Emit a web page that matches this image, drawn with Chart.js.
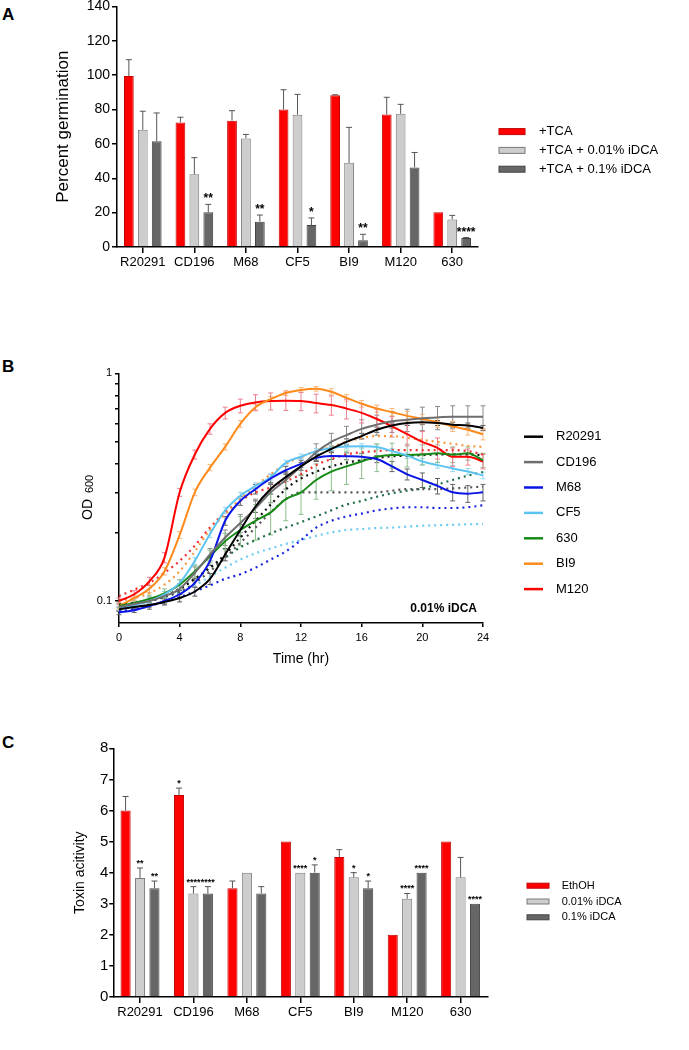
<!DOCTYPE html>
<html>
<head>
<meta charset="utf-8">
<script src="https://cdn.jsdelivr.net/npm/chart.js@4.4.1/dist/chart.umd.min.js"></script>
<style>
    html, body { margin: 0; padding: 0; background: #fff; }
    body { width: 689px; height: 1050px; position: relative; overflow: hidden; font-family: "Liberation Sans", Arial, sans-serif; }
    .panel { position: absolute; left: 0; }
    .tag { position: absolute; left: 2px; font: bold 17px "Liberation Sans", Arial, sans-serif; line-height: 17px; }
</style>
</head>
<body>
<div class="tag" style="top:6px">A</div>
<div class="tag" style="top:358px">B</div>
<div class="tag" style="top:734px">C</div>

<canvas id="chartA" class="panel" width="689" height="290" style="top:-4px"></canvas>
<canvas id="chartB" class="panel" width="689" height="313" style="top:355px"></canvas>
<canvas id="chartC" class="panel" width="689" height="287" style="top:735px"></canvas>

<script>
// strains (x categories of A and C, legend of B)
const strains = ["R20291", "CD196", "M68", "CF5", "BI9", "M120", "630"];

// A: percent germination
const germTicks = [0, 20, 40, 60, 80, 100, 120, 140];
const germTCA = [99.5, 72.5, 73.5, 80, 88.3, 77.1, 20.2];
const germTCAsd = [9.5, 3, 5.8, 11.5, 0.3, 10, 0];
const germLow = [68.2, 42.3, 63.2, 77, 49, 77.5, 16];
const germLowSd = [10.8, 9.7, 2.3, 11.8, 20.6, 5.5, 2.4];
const germHigh = [61.6, 20.2, 14.7, 12.8, 4, 46.3, 5.2];
const germHighSd = [16.4, 4.6, 3.9, 4.1, 3.4, 8.7, 0.3];
const germHighStars = ["", "**", "**", "*", "**", "", "****"];

// B: OD600 growth curves, hourly (solid = strain, dotted = same strain, second condition)
const hours = [0, 1, 2, 3, 4, 5, 6, 7, 8, 9, 10, 11, 12, 13, 14, 15, 16, 17, 18, 19, 20, 21, 22, 23, 24];
const odTicks = [0.1, 0.2, 0.3, 0.4, 0.5, 0.6, 0.7, 0.8, 0.9, 1];
const odLabelled = [0.1, 1];

const odR20291 = [0.092, 0.094, 0.096, 0.099, 0.103, 0.11, 0.125, 0.16, 0.205, 0.26, 0.31, 0.35, 0.39, 0.43, 0.465, 0.5, 0.53, 0.565, 0.59, 0.605, 0.61, 0.605, 0.595, 0.59, 0.575];
const odCD196 = [0.094, 0.097, 0.1, 0.105, 0.113, 0.133, 0.16, 0.19, 0.22, 0.255, 0.3, 0.34, 0.39, 0.45, 0.5, 0.535, 0.57, 0.595, 0.615, 0.625, 0.635, 0.64, 0.645, 0.645, 0.645];
const odM68 = [0.089, 0.091, 0.095, 0.1, 0.107, 0.12, 0.15, 0.225, 0.275, 0.31, 0.345, 0.375, 0.4, 0.425, 0.433, 0.432, 0.43, 0.42, 0.39, 0.36, 0.34, 0.32, 0.3, 0.296, 0.3];
const odCF5 = [0.093, 0.096, 0.1, 0.107, 0.12, 0.15, 0.197, 0.25, 0.29, 0.32, 0.35, 0.405, 0.43, 0.455, 0.47, 0.477, 0.478, 0.474, 0.455, 0.435, 0.41, 0.395, 0.382, 0.37, 0.356];
const od630 = [0.095, 0.098, 0.102, 0.108, 0.118, 0.135, 0.157, 0.183, 0.205, 0.225, 0.245, 0.28, 0.3, 0.34, 0.37, 0.39, 0.41, 0.43, 0.438, 0.438, 0.44, 0.445, 0.44, 0.445, 0.415];
const odBI9 = [0.095, 0.103, 0.113, 0.135, 0.195, 0.3, 0.385, 0.475, 0.6, 0.71, 0.77, 0.82, 0.845, 0.855, 0.83, 0.78, 0.735, 0.7, 0.675, 0.65, 0.63, 0.61, 0.585, 0.565, 0.54];
const odM120 = [0.1, 0.107, 0.122, 0.155, 0.3, 0.44, 0.57, 0.67, 0.72, 0.745, 0.755, 0.757, 0.755, 0.74, 0.725, 0.7, 0.67, 0.63, 0.585, 0.54, 0.5, 0.47, 0.43, 0.43, 0.41];

const sdR20291 = [0.002, 0.002, 0.002, 0.003, 0.004, 0.005, 0.007, 0.01, 0.012, 0.015, 0.015, 0.015, 0.015, 0.015, 0.015, 0.015, 0.015, 0.015, 0.015, 0.015, 0.015, 0.015, 0.015, 0.015, 0.015];
const sdCD196 = [0.003, 0.003, 0.004, 0.005, 0.006, 0.008, 0.01, 0.015, 0.02, 0.025, 0.03, 0.03, 0.035, 0.04, 0.045, 0.05, 0.055, 0.06, 0.065, 0.07, 0.075, 0.075, 0.075, 0.075, 0.075];
const sdM68 = [0.002, 0.002, 0.003, 0.003, 0.004, 0.005, 0.007, 0.01, 0.012, 0.015, 0.015, 0.015, 0.015, 0.015, 0.015, 0.015, 0.015, 0.015, 0.02, 0.02, 0.025, 0.025, 0.025, 0.025, 0.025];
const sdCF5 = [0.002, 0.002, 0.003, 0.003, 0.004, 0.005, 0.007, 0.008, 0.01, 0.01, 0.01, 0.01, 0.012, 0.012, 0.012, 0.012, 0.012, 0.012, 0.012, 0.012, 0.012, 0.012, 0.012, 0.012, 0.012];
const sd630 = [0.003, 0.003, 0.004, 0.005, 0.006, 0.008, 0.01, 0.015, 0.03, 0.04, 0.05, 0.055, 0.06, 0.06, 0.065, 0.065, 0.065, 0.06, 0.055, 0.05, 0.045, 0.04, 0.035, 0.03, 0.03];
const sdBI9 = [0.003, 0.003, 0.004, 0.005, 0.007, 0.01, 0.012, 0.015, 0.02, 0.02, 0.02, 0.02, 0.02, 0.02, 0.025, 0.025, 0.025, 0.025, 0.025, 0.03, 0.03, 0.03, 0.03, 0.03, 0.03];
const sdM120 = [0.003, 0.004, 0.005, 0.008, 0.012, 0.02, 0.03, 0.04, 0.05, 0.06, 0.065, 0.07, 0.07, 0.07, 0.07, 0.07, 0.065, 0.065, 0.06, 0.06, 0.055, 0.05, 0.04, 0.035, 0.03];

const dcaR20291 = [0.096, 0.098, 0.1, 0.105, 0.113, 0.125, 0.14, 0.16, 0.19, 0.225, 0.265, 0.31, 0.345, 0.37, 0.39, 0.405, 0.415, 0.425, 0.432, 0.435, 0.437, 0.44, 0.44, 0.44, 0.437];
const dcaCD196 = [0.096, 0.098, 0.1, 0.104, 0.11, 0.12, 0.135, 0.155, 0.18, 0.21, 0.245, 0.28, 0.3, 0.3, 0.3, 0.3, 0.3, 0.3, 0.305, 0.31, 0.31, 0.31, 0.312, 0.315, 0.318];
const dcaM68 = [0.09, 0.092, 0.095, 0.099, 0.104, 0.11, 0.117, 0.125, 0.131, 0.14, 0.152, 0.165, 0.185, 0.21, 0.225, 0.235, 0.242, 0.25, 0.255, 0.258, 0.258, 0.256, 0.256, 0.258, 0.263];
const dcaCF5 = [0.093, 0.096, 0.1, 0.104, 0.109, 0.117, 0.128, 0.14, 0.152, 0.162, 0.17, 0.178, 0.185, 0.193, 0.2, 0.205, 0.207, 0.209, 0.21, 0.212, 0.214, 0.215, 0.216, 0.217, 0.218];
const dca630 = [0.096, 0.098, 0.1, 0.105, 0.113, 0.125, 0.14, 0.155, 0.172, 0.185, 0.198, 0.21, 0.222, 0.235, 0.25, 0.265, 0.275, 0.287, 0.297, 0.305, 0.312, 0.325, 0.34, 0.355, 0.368];
const dcaBI9 = [0.1, 0.103, 0.108, 0.118, 0.135, 0.165, 0.205, 0.24, 0.28, 0.32, 0.36, 0.4, 0.43, 0.455, 0.475, 0.5, 0.52, 0.53, 0.53, 0.52, 0.51, 0.5, 0.49, 0.48, 0.475];
const dcaM120 = [0.105, 0.112, 0.12, 0.133, 0.15, 0.175, 0.21, 0.245, 0.275, 0.3, 0.315, 0.335, 0.36, 0.395, 0.42, 0.44, 0.45, 0.455, 0.46, 0.46, 0.46, 0.46, 0.46, 0.455, 0.44];

// C: toxin activity
const toxTicks = [0, 1, 2, 3, 4, 5, 6, 7, 8];
const toxEtOH = [6, 6.5, 3.5, 5, 4.5, 2, 5];
const toxEtOHsd = [0.45, 0.22, 0.23, 0, 0.24, 0, 0];
const toxEtOHstars = ["", "*", "", "", "", "", ""];
const toxLow = [3.83, 3.33, 4, 4, 3.85, 3.16, 3.85];
const toxLowSd = [0.32, 0.22, 0, 0, 0.15, 0.17, 0.64];
const toxLowStars = ["**", "****", "", "****", "*", "****", ""];
const toxHigh = [3.5, 3.33, 3.33, 4, 3.5, 4, 3];
const toxHighSd = [0.23, 0.22, 0.22, 0.25, 0.23, 0, 0];
const toxHighStars = ["**", "****", "", "*", "*", "****", "****"];


Chart.defaults.font.family = '"Liberation Sans", Arial, sans-serif';
Chart.defaults.color = "#000";

const RED = "#ff0000";
const LIGHT = "#cdcdcd";
const DARK = "#666666";

// upward error bars + significance stars on bars
const barErrors = {
    id: "barErrors",
    afterDatasetsDraw(chart, args, opts) {
        const ctx = chart.ctx;
        const y = chart.scales.y;
        ctx.save();
        chart.data.datasets.forEach(function (ds, di) {
            chart.getDatasetMeta(di).data.forEach(function (bar, i) {
                const top = y.getPixelForValue(ds.data[i] + ds.sd[i]);
                if (ds.sd[i] > 0) {
                    ctx.strokeStyle = "#555";
                    ctx.lineWidth = 1;
                    ctx.beginPath();
                    ctx.moveTo(bar.x, bar.y);
                    ctx.lineTo(bar.x, top);
                    ctx.moveTo(bar.x - 3, top);
                    ctx.lineTo(bar.x + 3, top);
                    ctx.stroke();
                }
                if (ds.stars && ds.stars[i]) {
                    ctx.fillStyle = "#000";
                    ctx.font = opts.font;
                    ctx.textAlign = "center";
                    ctx.textBaseline = "alphabetic";
                    ctx.fillText(ds.stars[i], bar.x, top - 2);
                }
            });
        });
        ctx.restore();
    }
};

// symmetric error bars on the growth curves
const lineErrors = {
    id: "lineErrors",
    beforeDatasetsDraw(chart) {
        const ctx = chart.ctx;
        const xs = chart.scales.x, ys = chart.scales.y;
        ctx.save();
        ctx.lineWidth = 1;
        chart.data.datasets.forEach(function (ds) {
            if (!ds.sd) return;
            ctx.strokeStyle = ds.errColor;
            ds.sd.forEach(function (e, i) {
                const px = xs.getPixelForValue(hours[i]);
                const lo = ys.getPixelForValue(ds.data[i].y - e);
                const hi = ys.getPixelForValue(ds.data[i].y + e);
                ctx.beginPath();
                ctx.moveTo(px, lo); ctx.lineTo(px, hi);
                ctx.moveTo(px - 2.5, lo); ctx.lineTo(px + 2.5, lo);
                ctx.moveTo(px - 2.5, hi); ctx.lineTo(px + 2.5, hi);
                ctx.stroke();
            });
        });
        ctx.restore();
    }
};

// legend drawn at a fixed spot right of the plot
const sideLegend = {
    id: "sideLegend",
    afterDraw(chart, args, opts) {
        const ctx = chart.ctx;
        ctx.save();
        ctx.font = opts.font;
        ctx.textBaseline = "middle";
        ctx.textAlign = "left";
        let y = opts.y;
        chart.data.datasets.forEach(function (ds) {
            if (ds.inLegend === false) return;
            if (opts.kind === "line") {
                ctx.strokeStyle = ds.borderColor;
                ctx.lineWidth = 2.5;
                ctx.beginPath();
                ctx.moveTo(opts.x, y);
                ctx.lineTo(opts.x + opts.w, y);
                ctx.stroke();
            } else {
                ctx.fillStyle = ds.backgroundColor;
                ctx.fillRect(opts.x, y - opts.h / 2, opts.w, opts.h);
                ctx.strokeStyle = ds.borderColor;
                ctx.lineWidth = 1;
                ctx.strokeRect(opts.x, y - opts.h / 2, opts.w, opts.h);
            }
            ctx.fillStyle = "#000";
            ctx.fillText(ds.label, opts.textX, y);
            y += opts.gap;
        });
        if (opts.note) {
            ctx.font = "bold 12px 'Liberation Sans', Arial, sans-serif";
            ctx.textAlign = "right";
            ctx.fillText(opts.note, opts.noteX, opts.noteY);
        }
        ctx.restore();
    }
};

// OD600 axis title with subscript
const odTitle = {
    id: "odTitle",
    afterDraw(chart) {
        const ctx = chart.ctx;
        ctx.save();
        ctx.translate(91.5, 165);
        ctx.rotate(-Math.PI / 2);
        ctx.fillStyle = "#000";
        ctx.textBaseline = "alphabetic";
        ctx.font = "14px 'Liberation Sans', Arial, sans-serif";
        ctx.fillText("OD", 0, 0);
        const w = ctx.measureText("OD ").width;
        ctx.font = "11px 'Liberation Sans', Arial, sans-serif";
        ctx.fillText("600", w + 2, 1.5);
        ctx.restore();
    }
};

function axisX(extra) {
    return Object.assign({
        grid: { display: true, drawOnChartArea: false, offset: false, color: "#000", lineWidth: 1.5, tickLength: 6 },
        border: { display: true, color: "#000", width: 1.5 },
        ticks: { color: "#000", font: { size: 13 }, padding: 2, maxRotation: 0, autoSkip: false }
    }, extra);
}

function barSet(label, data, sd, stars, fill, edge) {
    return { label: label, data: data, sd: sd, stars: stars, backgroundColor: fill, borderColor: edge, borderWidth: 1 };
}

// ---------- A ----------
new Chart(document.getElementById("chartA"), {
    type: "bar",
    data: {
        labels: strains,
        datasets: [
            barSet("+TCA", germTCA, germTCAsd, null, RED, "#c00000"),
            barSet("+TCA + 0.01% iDCA", germLow, germLowSd, null, LIGHT, "#7a7a7a"),
            barSet("+TCA + 0.1% iDCA", germHigh, germHighSd, germHighStars, DARK, "#444")
        ]
    },
    options: {
        responsive: false, animation: false, devicePixelRatio: 1,
        layout: { padding: { left: 53, right: 211, top: 10, bottom: 4 } },
        datasets: { bar: { categoryPercentage: 0.81, barPercentage: 0.7 } },
        plugins: {
            legend: { display: false }, tooltip: { enabled: false },
            barErrors: { font: "bold 12px 'Liberation Sans', Arial, sans-serif" },
            sideLegend: { kind: "box", x: 499, y: 135.6, w: 26, h: 6, gap: 18.8, textX: 539, font: "13px 'Liberation Sans', Arial, sans-serif" }
        },
        scales: {
            x: axisX({ afterFit: function (s) { s.height = 35; } }),
            y: {
                min: 0, max: 140,
                afterBuildTicks: function (s) { s.ticks = germTicks.map(function (v) { return { value: v }; }); },
                grid: { display: true, drawOnChartArea: false, color: "#000", lineWidth: 1.5, tickLength: 5 },
                border: { display: true, color: "#000", width: 1.5 },
                ticks: { color: "#000", font: { size: 14 }, padding: 2 },
                title: { display: true, text: "Percent germination", font: { size: 17 }, color: "#000", padding: 0 },
                afterFit: function (s) { s.width = 64; }
            }
        }
    },
    plugins: [barErrors, sideLegend]
});

// ---------- B ----------
function pts(vals) {
    return vals.map(function (v, i) { return { x: hours[i], y: v }; });
}
function solid(label, vals, sd, color, errColor) {
    return { label: label, data: pts(vals), sd: sd, errColor: errColor, borderColor: color, borderWidth: 2, pointRadius: 0, cubicInterpolationMode: "monotone" };
}
function dotted(label, vals, color) {
    return { label: label, data: pts(vals), inLegend: false, borderColor: color, borderWidth: 2.2, borderDash: [2, 4], pointRadius: 0, cubicInterpolationMode: "monotone" };
}

new Chart(document.getElementById("chartB"), {
    type: "line",
    data: {
        datasets: [
            solid("R20291", odR20291, sdR20291, "#000000", "#555555"),
            solid("CD196", odCD196, sdCD196, "#6e6e6e", "#8a8a8a"),
            solid("M68", odM68, sdM68, "#0a14e6", "#666666"),
            solid("CF5", odCF5, sdCF5, "#5cc4f2", "#9ad8f2"),
            solid("630", od630, sd630, "#168a16", "#8cbf8c"),
            solid("BI9", odBI9, sdBI9, "#ff8a1c", "#f7b77a"),
            solid("M120", odM120, sdM120, "#ff0000", "#ee8090"),
            dotted("R20291", dcaR20291, "#111111"),
            dotted("CD196", dcaCD196, "#555555"),
            dotted("M68", dcaM68, "#1a24e0"),
            dotted("CF5", dcaCF5, "#6ccbf0"),
            dotted("630", dca630, "#1f6e45"),
            dotted("BI9", dcaBI9, "#f59a40"),
            dotted("M120", dcaM120, "#f03030")
        ]
    },
    options: {
        responsive: false, animation: false, devicePixelRatio: 1,
        layout: { padding: { left: 0, right: 206, top: 18.3, bottom: 0 } },
        plugins: {
            legend: { display: false }, tooltip: { enabled: false },
            sideLegend: { kind: "line", x: 524, y: 81.7, w: 19, gap: 25.4, textX: 556, font: "13px 'Liberation Sans', Arial, sans-serif",
                note: "0.01% iDCA", noteX: 477, noteY: 253.3 }
        },
        scales: {
            x: {
                type: "linear", min: 0, max: 24,
                grid: { display: true, drawOnChartArea: false, color: "#000", lineWidth: 1.5, tickLength: 4 },
                border: { display: true, color: "#000", width: 1.5 },
                ticks: { stepSize: 4, color: "#000", font: { size: 11 }, padding: 4 },
                title: { display: true, text: "Time (hr)", font: { size: 14 }, color: "#000", padding: 0 },
                afterFit: function (s) { s.height = 45; }
            },
            y: {
                type: "logarithmic", min: 0.08, max: 1,
                afterBuildTicks: function (s) { s.ticks = odTicks.map(function (v) { return { value: v }; }); },
                grid: { display: true, drawOnChartArea: false, color: "#000", lineWidth: 1.5, tickLength: 4 },
                border: { display: true, color: "#000", width: 1.5 },
                ticks: {
                    autoSkip: false, color: "#000", font: { size: 11 }, padding: 3,
                    callback: function (v) { return odLabelled.indexOf(v) >= 0 ? String(v) : ""; }
                },
                afterFit: function (s) { s.width = 119; }
            }
        }
    },
    plugins: [lineErrors, sideLegend, odTitle]
});

// ---------- C ----------
new Chart(document.getElementById("chartC"), {
    type: "bar",
    data: {
        labels: strains,
        datasets: [
            barSet("EthOH", toxEtOH, toxEtOHsd, toxEtOHstars, RED, "#c00000"),
            barSet("0.01% iDCA", toxLow, toxLowSd, toxLowStars, LIGHT, "#7a7a7a"),
            barSet("0.1% iDCA", toxHigh, toxHighSd, toxHighStars, DARK, "#444")
        ]
    },
    options: {
        responsive: false, animation: false, devicePixelRatio: 1,
        layout: { padding: { left: 71.6, right: 201.7, top: 13.3, bottom: 0 } },
        datasets: { bar: { categoryPercentage: 0.81, barPercentage: 0.7 } },
        plugins: {
            legend: { display: false }, tooltip: { enabled: false },
            barErrors: { font: "bold 9px 'Liberation Sans', Arial, sans-serif" },
            sideLegend: { kind: "box", x: 527, y: 150.7, w: 22, h: 5, gap: 15.8, textX: 561.7, font: "11px 'Liberation Sans', Arial, sans-serif" }
        },
        scales: {
            x: axisX({ afterFit: function (s) { s.height = 25; } }),
            y: {
                min: 0, max: 8,
                afterBuildTicks: function (s) { s.ticks = toxTicks.map(function (v) { return { value: v }; }); },
                grid: { display: true, drawOnChartArea: false, color: "#000", lineWidth: 1.5, tickLength: 4 },
                border: { display: true, color: "#000", width: 1.5 },
                ticks: { color: "#000", font: { size: 15 }, padding: 1 },
                title: { display: true, text: "Toxin acitivity", font: { size: 14 }, color: "#000", padding: 0 },
                afterFit: function (s) { s.width = 41.7; }
            }
        }
    },
    plugins: [barErrors, sideLegend]
});
</script>
</body>
</html>
